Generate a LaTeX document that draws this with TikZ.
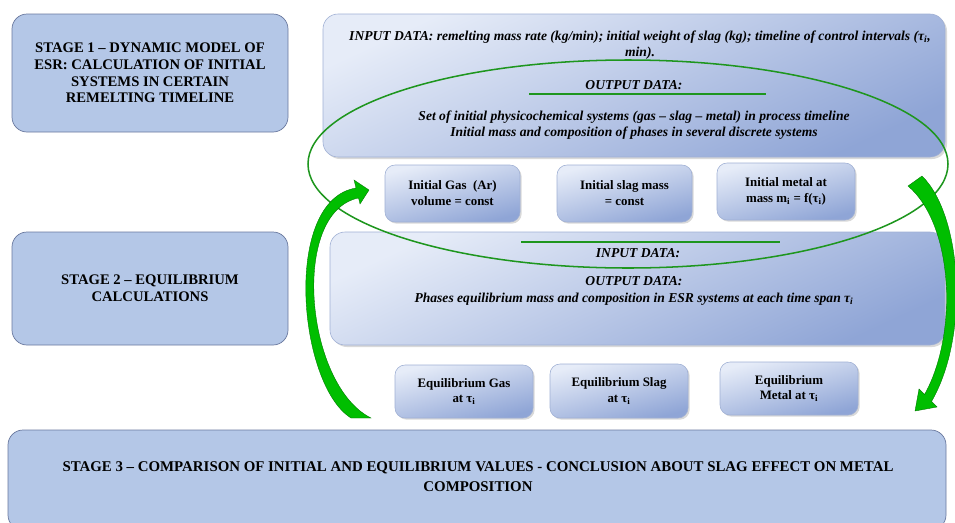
\documentclass[tikz,border=0pt]{standalone}
\usepackage{fontspec}
\setmainfont{Liberation Serif}
\usetikzlibrary{positioning,shadows}

\definecolor{stagefill}{RGB}{180,199,231}
\definecolor{stageline}{RGB}{105,120,158}
\definecolor{datalight}{RGB}{230,236,248}
\definecolor{datadark}{RGB}{143,165,214}
\definecolor{dataline}{RGB}{160,176,212}
\definecolor{ringgreen}{RGB}{30,150,30}
\definecolor{arrowgreen}{RGB}{0,190,0}
\newcommand{\pxl}{0.03cm}

\begin{document}
\begin{tikzpicture}[x=0.03cm,y=-0.03cm,
  stagebox/.style={draw=stageline, fill=stagefill, rounded corners=0.45cm, line width=0.6pt,
    align=center, font=\bfseries\fontsize{12.5}{14.2}\selectfont},
  databox/.style={draw=dataline, rounded corners=0.45cm, line width=0.5pt,
    top color=datalight, bottom color=datadark, shading angle=25,
    drop shadow={opacity=0.3, shadow xshift=0.6mm, shadow yshift=-0.6mm}},
  phasebox/.style={draw=dataline, rounded corners=0.3cm, line width=0.5pt,
    top color=datalight, bottom color=datadark, shading angle=15,
    drop shadow={opacity=0.3, shadow xshift=0.5mm, shadow yshift=-0.5mm},
    align=center, font=\bfseries\fontsize{11}{13.6}\selectfont},
  datatext/.style={align=center, font=\bfseries\itshape\fontsize{11.6}{13.8}\selectfont},
  greenline/.style={draw=ringgreen, line width=1.3pt},
  bigarrow/.style={fill=arrowgreen, draw=green!45!black, line width=0.3pt}]
\useasboundingbox (0,0) rectangle (955,522);

% stages
\node[stagebox, minimum width=276*\pxl, minimum height=118*\pxl] (stage1) at (150,73)
  {STAGE 1 -- DYNAMIC MODEL OF\\ESR: CALCULATION OF INITIAL\\SYSTEMS IN CERTAIN\\REMELTING TIMELINE};
\node[stagebox, minimum width=276*\pxl, minimum height=113*\pxl] (stage2) at (150,288.5)
  {STAGE 2 -- EQUILIBRIUM\\CALCULATIONS};
\node[stagebox, minimum width=938*\pxl, minimum height=100*\pxl] (stage3) at (477,480) {};
\node[align=center, font=\bfseries\fontsize{12.7}{17}\selectfont] (stage3txt) at (478,477)
  {STAGE 3 -- COMPARISON OF INITIAL AND EQUILIBRIUM VALUES - CONCLUSION ABOUT SLAG EFFECT ON METAL\\COMPOSITION};

% data boxes
\node[databox, minimum width=622*\pxl, minimum height=143*\pxl] (data1) at (634,85.5) {};
\node[databox, minimum width=615*\pxl, minimum height=113*\pxl] (data2) at (637.5,288.5) {};

\node[datatext] (in1) at (640,45)
  {INPUT DATA: remelting mass rate (kg/min); initial weight of slag (kg); timeline of control intervals (τ\textsubscript{i},\\min).};
\node[datatext] (out1) at (634,85) {OUTPUT DATA:};
\node[datatext] (res1) at (634,125)
  {Set of initial physicochemical systems (gas -- slag -- metal) in process timeline\\Initial mass and composition of phases in several discrete systems};
\node[datatext] (in2) at (638,253) {INPUT DATA:};
\node[datatext] (out2) at (634,291)
  {OUTPUT DATA:\\Phases equilibrium mass and composition in ESR systems at each time span τ\textsubscript{i}};

% phases
\node[phasebox, minimum width=135*\pxl, minimum height=57*\pxl] (gas0) at (452.5,193.5) {Initial Gas~ (Ar)\\volume = const};
\node[phasebox, minimum width=135*\pxl, minimum height=57*\pxl] (slag0) at (624.5,193.5) {Initial slag mass\\= const};
\node[phasebox, minimum width=138*\pxl, minimum height=57*\pxl] (metal0) at (786,191.5) {Initial metal at\\mass m\textsubscript{i} = f(τ\textsubscript{i})};
\node[phasebox, minimum width=138*\pxl, minimum height=53*\pxl] (gas1) at (464,391.5) {Equilibrium Gas\\at τ\textsubscript{i}};
\node[phasebox, minimum width=138*\pxl, minimum height=54*\pxl] (slag1) at (619,391) {Equilibrium Slag\\at τ\textsubscript{i}};
\node[phasebox, minimum width=138*\pxl, minimum height=53*\pxl] (metal1) at (789,388.5) {Equilibrium\\Metal at τ\textsubscript{i}};

% green marks
\draw[greenline] (529,94) -- (766,94);
\draw[greenline] (521,242) -- (780,242);
\draw[ringgreen, line width=1.3pt] (628,164) ellipse [x radius=320, y radius=104];

% curved arrows
\filldraw[bigarrow] (351,418) .. controls (298,385) and (282,200) .. (356,188)
  -- (354,180) -- (369,190) -- (360,204) -- (358.5,198)
  .. controls (290,212) and (305,385) .. (371,418) -- cycle;
\filldraw[bigarrow] (908,186) -- (922,176) .. controls (962,215) and (970,335) .. (931.5,401.5)
  -- (937,407) -- (915,411) -- (919,389) -- (924.5,394.5)
  .. controls (958,335) and (954,225) .. (908,186) -- cycle;
\end{tikzpicture}
\end{document}
